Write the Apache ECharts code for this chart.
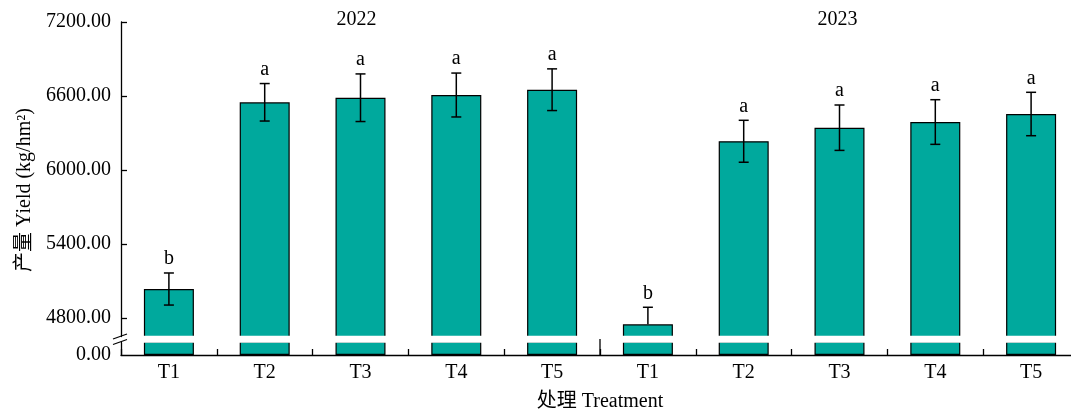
<!DOCTYPE html>
<html>
<head>
<meta charset="utf-8">
<script src="https://cdn.jsdelivr.net/npm/echarts@6/dist/echarts.min.js"></script>
<style>
html,body{margin:0;padding:0;background:#fff;overflow:hidden;width:1071px;height:414px;}
#main{width:1080px;height:414px;}
</style>
</head>
<body>
<div id="main"></div>
<script>
const years = ['2022', '2023'];
const treatments = ['T1', 'T2', 'T3', 'T4', 'T5'];
const yield2022 = [5035, 6549, 6586, 6608, 6651];
const yield2023 = [4749, 6233, 6343, 6389, 6454];
const err2022 = [130, 152, 193, 178, 169];
const err2023 = [138, 170, 184, 181, 176];
const letters2022 = ['b', 'a', 'a', 'a', 'a'];
const letters2023 = ['b', 'a', 'a', 'a', 'a'];
const yTicks = [4800, 5400, 6000, 6600, 7200];
const yAxisName = '产量 Yield (kg/hm²)';
const xAxisName = '处理 Treatment';

const FONT = '"Liberation Serif", "Times New Roman", "Noto Sans CJK SC", serif';
const BAR_COLOR = '#00A99D';

const categories = [];
years.forEach(y => treatments.forEach(t => categories.push(y + '|' + t)));
const values = yield2022.concat(yield2023);
const errs = err2022.concat(err2023);
const letters = letters2022.concat(letters2023);

const TOP_MIN = 4650, TOP_MAX = 7200;

const chart = echarts.init(document.getElementById('main'));

const barStyle = { color: BAR_COLOR, borderColor: '#000', borderWidth: 1.2 };

const option = {
  animation: false,
  backgroundColor: '#fff',
  grid: [
    { left: 121, top: 22, width: 958, height: 314.5 },
    { left: 121, top: 342, width: 958, height: 13 }
  ],
  xAxis: [
    { type: 'category', gridIndex: 0, data: categories, show: false },
    {
      type: 'category', gridIndex: 1, data: categories,
      axisLine: { lineStyle: { color: '#000', width: 1.3 } },
      axisTick: { show: true, interval: 0, inside: true, length: 6, lineStyle: { color: '#000', width: 1.3 } },
      axisLabel: {
        color: '#000', fontFamily: FONT, fontSize: 20, margin: 8,
        formatter: v => v.split('|')[1]
      }
    }
  ],
  yAxis: [
    {
      type: 'value', gridIndex: 0, min: TOP_MIN, max: TOP_MAX,
      splitLine: { show: false },
      axisLine: { show: true, lineStyle: { color: '#000', width: 1.3 } },
      axisTick: { show: true, inside: true, length: 6, customValues: yTicks, lineStyle: { color: '#000', width: 1.3 } },
      axisLabel: {
        color: '#000', fontFamily: FONT, fontSize: 20, margin: 10,
        customValues: yTicks,
        formatter: v => Number(v).toFixed(2)
      }
    },
    {
      type: 'value', gridIndex: 1, min: 0, max: 100,
      splitLine: { show: false },
      axisLine: { show: true, lineStyle: { color: '#000', width: 1.3 } },
      axisTick: { show: false },
      axisLabel: {
        color: '#000', fontFamily: FONT, fontSize: 20, margin: 10,
        customValues: [0],
        formatter: v => Number(v).toFixed(2)
      }
    }
  ],
  series: [
    {
      type: 'bar', xAxisIndex: 0, yAxisIndex: 0, data: values,
      barWidth: 50, itemStyle: barStyle, clip: true, z: 2
    },
    {
      type: 'bar', xAxisIndex: 1, yAxisIndex: 1, data: values,
      barWidth: 50, itemStyle: barStyle, clip: true, z: 2
    },
    {
      type: 'custom', xAxisIndex: 0, yAxisIndex: 0, z: 5, clip: false,
      data: values.map((v, i) => [i, v, errs[i]]),
      renderItem: function (params, api) {
        const i = api.value(0), v = api.value(1), e = api.value(2);
        const top = api.coord([i, v + e]);
        const mid = api.coord([i, v]);
        const lowVal = v - e;
        const hw = 5;
        const children = [];
        const ls = { stroke: '#000', lineWidth: 1.5 };
        if (lowVal >= TOP_MIN) {
          const bot = api.coord([i, lowVal]);
          children.push({ type: 'line', shape: { x1: top[0], y1: top[1], x2: bot[0], y2: bot[1] }, style: ls });
          children.push({ type: 'line', shape: { x1: bot[0] - hw, y1: bot[1], x2: bot[0] + hw, y2: bot[1] }, style: ls });
        } else {
          children.push({ type: 'line', shape: { x1: top[0], y1: top[1], x2: mid[0], y2: mid[1] }, style: ls });
        }
        children.push({ type: 'line', shape: { x1: top[0] - hw, y1: top[1], x2: top[0] + hw, y2: top[1] }, style: ls });
        children.push({
          type: 'text',
          style: {
            text: letters[params.dataIndex], x: top[0], y: top[1] - 4,
            align: 'center', verticalAlign: 'bottom',
            font: '20px ' + FONT, fill: '#000'
          }
        });
        return { type: 'group', children: children };
      }
    }
  ]
};

chart.setOption(option);

// decorative elements positioned through the axes' scales
const pTop = chart.convertToPixel({ xAxisIndex: 0, yAxisIndex: 0 }, [0, TOP_MIN]);
const pBot = chart.convertToPixel({ xAxisIndex: 1, yAxisIndex: 1 }, [0, 0]);
const gapTop = pTop[1];
const gapBot = chart.convertToPixel({ xAxisIndex: 1, yAxisIndex: 1 }, [0, 100])[1];
const axisX = 121;
const xA = chart.convertToPixel({ xAxisIndex: 1 }, 4);
const xB = chart.convertToPixel({ xAxisIndex: 1 }, 5);
const divX = (xA + xB) / 2;
const g1 = chart.convertToPixel({ xAxisIndex: 1 }, 2);
const g2 = chart.convertToPixel({ xAxisIndex: 1 }, 7);

chart.setOption({
  graphic: [
    { type: 'rect', shape: { x: axisX + 1, y: gapTop - 0.7, width: 970, height: gapBot - gapTop + 1.4 }, style: { fill: '#fff' }, z: 10 },
    { type: 'line', shape: { x1: 113, y1: gapTop + 2.5, x2: 127, y2: gapTop - 2.5 }, style: { stroke: '#000', lineWidth: 1.2 }, z: 11 },
    { type: 'line', shape: { x1: 113, y1: gapBot + 2.5, x2: 127, y2: gapBot - 2.5 }, style: { stroke: '#000', lineWidth: 1.2 }, z: 11 },
    { type: 'line', shape: { x1: divX, y1: pBot[1], x2: divX, y2: pBot[1] - 16 }, style: { stroke: '#000', lineWidth: 1.3 }, z: 11 },
    { type: 'text', style: { text: years[0], x: g1 - 4, y: 20, align: 'center', verticalAlign: 'middle', font: '20px ' + FONT, fill: '#000' }, z: 11 },
    { type: 'text', style: { text: years[1], x: g2 - 2, y: 20, align: 'center', verticalAlign: 'middle', font: '20px ' + FONT, fill: '#000' }, z: 11 },
    { type: 'text', style: { text: xAxisName, x: 600, y: 402, align: 'center', verticalAlign: 'middle', font: '20px ' + FONT, fill: '#000' }, z: 11 },
    { type: 'text', rotation: Math.PI / 2, x: 25, y: 190, style: { text: yAxisName, x: 0, y: 0, align: 'center', verticalAlign: 'middle', font: '20px ' + FONT, fill: '#000' }, z: 11 }
  ]
});
</script>
</body>
</html>
